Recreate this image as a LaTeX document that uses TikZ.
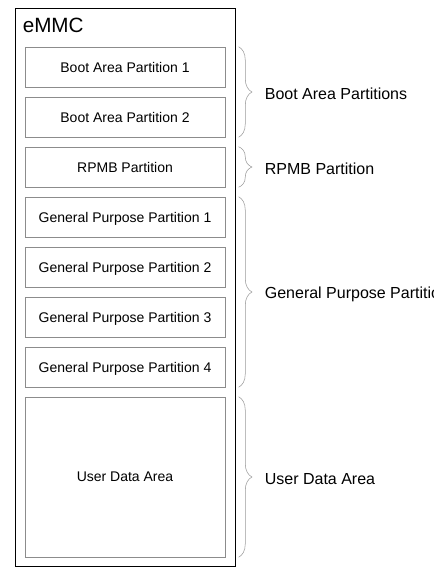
\documentclass[tikz,border=0pt]{standalone}
\usepackage{fontspec}
\setmainfont{Liberation Sans}
\usetikzlibrary{decorations.pathreplacing}
\begin{document}
\begin{tikzpicture}[
  x = 0.75pt, y = -0.75pt,
  partbox/.style = {rectangle, draw = gray!90, minimum width = 150pt, minimum height = 30pt, text depth = 0pt, font = \fontsize{10.5}{12}\selectfont},
  areabrace/.style = {draw = gray!80, decorate, decoration = {brace, amplitude = 10pt}},
  arealabel/.style = {anchor = west, inner sep = 0pt, font = \fontsize{12}{14}\selectfont}
]
  \useasboundingbox (0, 0) rectangle (434, 570);
  \clip (0, 0) rectangle (434, 570);

  \node[rectangle, draw, minimum width = 165pt, minimum height = 419pt] (emmc) at (125.3, 287.3) {};
  \node[anchor = north west, inner sep = 0pt, font = \fontsize{15.5}{18}\selectfont] (title) at (22.5, 17.5) {eMMC};

  \node[partbox] (b1) at (125, 67)  {Boot Area Partition 1};
  \node[partbox] (b2) at (125, 117) {Boot Area Partition 2};
  \node[partbox] (r)  at (125, 167) {RPMB Partition};
  \node[partbox] (g1) at (125, 217) {General Purpose Partition 1};
  \node[partbox] (g2) at (125, 267) {General Purpose Partition 2};
  \node[partbox] (g3) at (125, 317) {General Purpose Partition 3};
  \node[partbox] (g4) at (125, 367) {General Purpose Partition 4};
  \node[partbox, minimum height = 120pt] (u) at (125, 477) {User Data Area};

  \draw[areabrace] ([xshift = 10pt]b1.north east) -- ([xshift = 10pt]b2.south east) coordinate[midway, xshift = 10pt] (bt);
  \draw[areabrace] ([xshift = 10pt]r.north east)  -- ([xshift = 10pt]r.south east)  coordinate[midway, xshift = 10pt] (rt);
  \draw[areabrace] ([xshift = 10pt]g1.north east) -- ([xshift = 10pt]g4.south east) coordinate[midway, xshift = 10pt] (gt);
  \draw[areabrace] ([xshift = 10pt]u.north east)  -- ([xshift = 10pt]u.south east)  coordinate[midway, xshift = 10pt] (ut);

  \node[arealabel] (bl) at ([xshift = 9.5pt, yshift = -1.5pt]bt) {Boot Area Partitions};
  \node[arealabel] (rl) at ([xshift = 9.5pt, yshift = -1.5pt]rt) {RPMB Partition};
  \node[arealabel] (gl) at ([xshift = 9.5pt, yshift = -1.5pt]gt) {General Purpose Partitions};
  \node[arealabel] (ul) at ([xshift = 9.5pt, yshift = -1.5pt]ut) {User Data Area};
\end{tikzpicture}
\end{document}
